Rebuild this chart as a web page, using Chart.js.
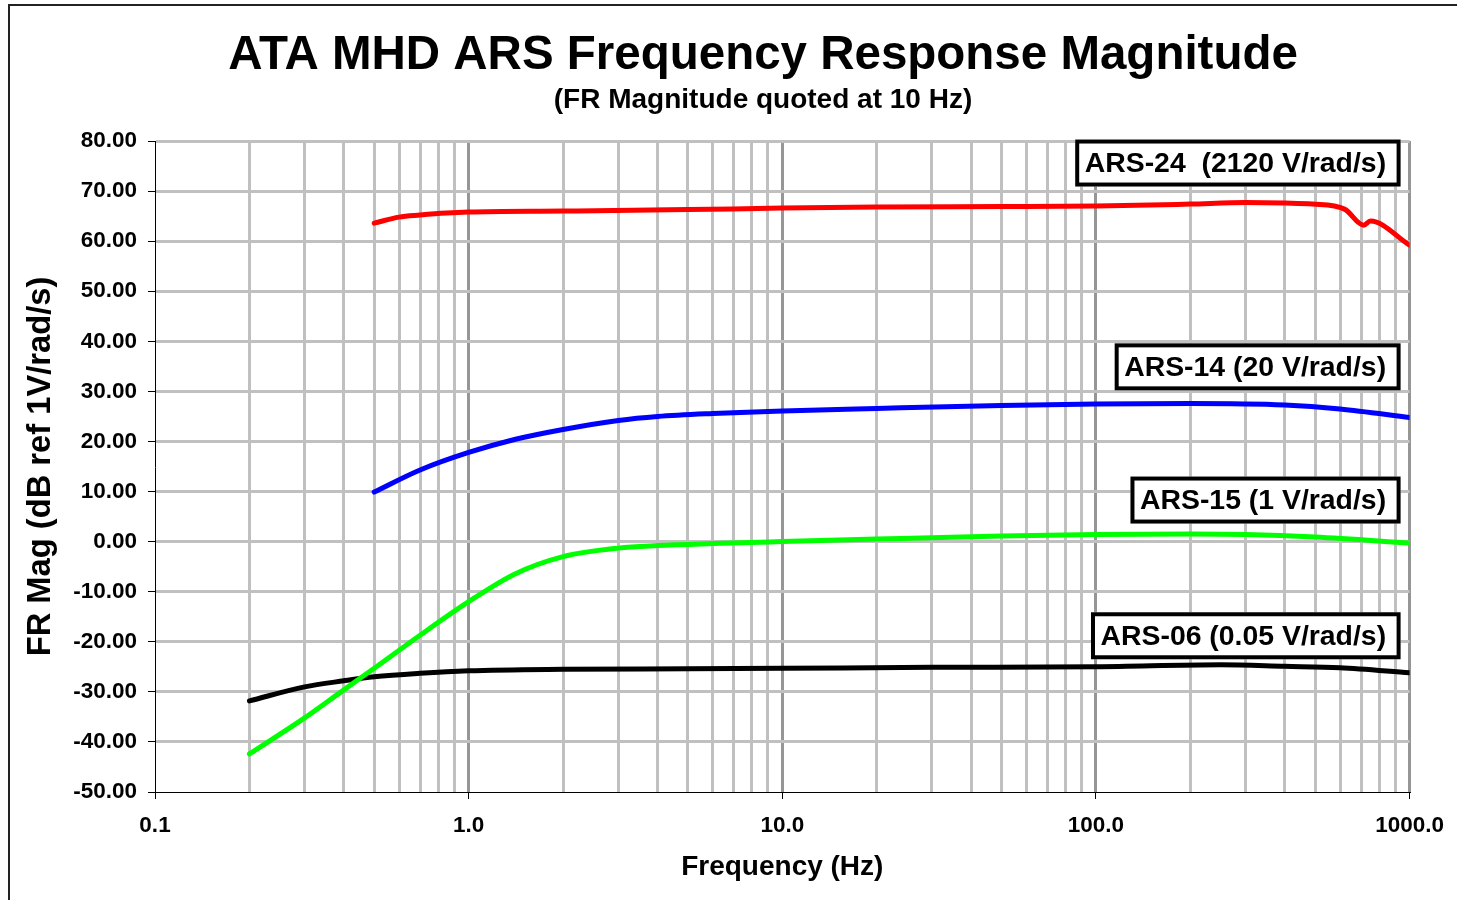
<!DOCTYPE html>
<html>
<head>
<meta charset="utf-8">
<title>ATA MHD ARS Frequency Response Magnitude</title>
<script src="https://cdn.jsdelivr.net/npm/chart.js@4.4.1/dist/chart.umd.min.js"></script>
<style>
	html, body { margin: 0; padding: 0; background: #fff; }
	#wrap { position: absolute; left: 0; top: 0; width: 1457px; height: 900px; }
</style>
</head>
<body>
<div id="wrap"><canvas id="fr-chartcanvas" width="1457" height="900"></canvas></div>
<script>
"use strict";

// values (Hz / dB)
const ars24Freq = [0.5, 0.6, 0.7, 0.85, 1, 2, 5, 10, 20, 50, 100, 200, 300, 400, 490, 620, 714, 750, 1000];
const ars24Mag = [63.6, 64.8, 65.2, 65.6, 65.8, 66.0, 66.3, 66.6, 66.8, 66.9, 67.0, 67.4, 67.7, 67.6, 67.4, 66.4, 63.2, 64.0, 59.2];

const ars14Freq = [0.5, 0.7, 1, 1.4, 2, 3, 4, 6, 10, 20, 50, 100, 200, 400, 600, 1000];
const ars14Mag = [9.9, 14.3, 17.8, 20.4, 22.4, 24.2, 25.0, 25.6, 26.1, 26.6, 27.2, 27.5, 27.6, 27.3, 26.5, 24.8];

const ars15Freq = [0.2, 0.3, 0.4, 0.5, 0.7, 1, 1.4, 2, 3, 4, 6, 10, 20, 50, 100, 200, 300, 500, 1000];
const ars15Mag = [-42.4, -35.2, -29.6, -25.3, -18.7, -12.0, -6.5, -3.0, -1.3, -0.8, -0.4, 0.0, 0.5, 1.1, 1.4, 1.5, 1.4, 0.9, -0.3];

const ars06Freq = [0.2, 0.3, 0.4, 0.5, 0.7, 1, 2, 5, 10, 30, 100, 250, 400, 600, 1000];
const ars06Mag = [-31.8, -29.0, -27.8, -27.0, -26.3, -25.8, -25.5, -25.4, -25.3, -25.1, -25.0, -24.6, -24.9, -25.2, -26.2];

// axis ticks
const magTicks = [-50, -40, -30, -20, -10, 0, 10, 20, 30, 40, 50, 60, 70, 80];

// boxed labels, anchored on the dB axis
const boxText = ["ARS-24  (2120 V/rad/s)", "ARS-14 (20 V/rad/s)", "ARS-15 (1 V/rad/s)", "ARS-06 (0.05 V/rad/s)"];
const boxLevel = [75.6, 34.9, 8.3, -18.8];

const chartTitle = "ATA MHD ARS Frequency Response Magnitude";
const chartSubtitle = "(FR Magnitude quoted at 10 Hz)";

const fontFamily = "'Liberation Sans', Arial, Helvetica, sans-serif";

function toPoints(freqs, mags) {
	return freqs.map(function(f, i) { return { x : f, y : mags[i] }; });
}

function isDecade(v) {
	let l = Math.log10(v);
	return Math.abs(l - Math.round(l)) < 1e-6;
}

// every 1..9 x 10^n between 0.1 and 1000
function logTicks() {
	let ticks = [];
	for (let e = -1; e < 3; e++) {
		for (let s = 1; s < 10; s++) {
			ticks.push({ value : parseFloat((s * Math.pow(10, e)).toPrecision(6)) });
		}
	}
	ticks.push({ value : 1000 });
	return ticks;
}

// titles, frame and label boxes
const decorPlugin = {
	id : "decor",
	beforeDraw : function(chart) {
		let ctx = chart.ctx;
		ctx.save();
		ctx.fillStyle = "#fff";
		ctx.fillRect(0, 0, chart.width, chart.height);
		ctx.strokeStyle = "#222";
		ctx.lineWidth = 2;
		ctx.strokeRect(9, 5, chart.width + 20, chart.height + 20);
		ctx.fillStyle = "#000";
		ctx.textAlign = "center";
		ctx.textBaseline = "middle";
		ctx.font = "bold 47.5px " + fontFamily;
		ctx.fillText(chartTitle, 763, 56);
		ctx.font = "bold 28px " + fontFamily;
		ctx.fillText(chartSubtitle, 763, 100);
		ctx.restore();
	},
	afterDatasetsDraw : function(chart) {
		let ctx = chart.ctx;
		let yScale = chart.scales.y;
		let right = chart.chartArea.right - 9;
		ctx.save();
		ctx.font = "bold 28.4px " + fontFamily;
		ctx.textAlign = "right";
		ctx.textBaseline = "middle";
		for (let i = 0; i < boxText.length; i++) {
			let w = ctx.measureText(boxText[i]).width + 24;
			let h = 47;
			let cy = yScale.getPixelForValue(boxLevel[i]);
			let left = right - w;
			ctx.fillStyle = "#fff";
			ctx.fillRect(left, cy - h / 2, w, h);
			ctx.strokeStyle = "#000";
			ctx.lineWidth = 4;
			ctx.strokeRect(left + 2, cy - h / 2 + 2, w - 4, h - 4);
			ctx.fillStyle = "#000";
			ctx.fillText(boxText[i], right - 14.5, cy + 1);
		}
		ctx.restore();
	}
};

let lineStyle = {
	fill : false,
	pointRadius : 0,
	borderWidth : 5,
	borderCapStyle : "round",
	borderJoinStyle : "round",
	cubicInterpolationMode : "monotone"
};

// graph elements
let frData = {
	datasets : [
		Object.assign({ label : "ARS-24", data : toPoints(ars24Freq, ars24Mag), borderColor : "#ff0000" }, lineStyle),
		Object.assign({ label : "ARS-14", data : toPoints(ars14Freq, ars14Mag), borderColor : "#0000ff" }, lineStyle),
		Object.assign({ label : "ARS-15", data : toPoints(ars15Freq, ars15Mag), borderColor : "#00ff00" }, lineStyle),
		Object.assign({ label : "ARS-06", data : toPoints(ars06Freq, ars06Mag), borderColor : "#000000" }, lineStyle)
	]
};

let frOptions = {
	responsive : false,
	animation : false,
	devicePixelRatio : 1,
	layout : {
		padding : { top : 141, right : 44, bottom : 0, left : 0 }
	},
	plugins : {
		legend : { display : false },
		title : { display : false },
		tooltip : { enabled : false }
	},
	scales : {
		x : {
			type : "logarithmic",
			min : 0.1,
			max : 1000,
			afterBuildTicks : function(scale) { scale.ticks = logTicks(); },
			afterFit : function(scale) { scale.height = 108; },
			ticks : {
				autoSkip : false,
				maxRotation : 0,
				padding : 13,
				color : "#000",
				font : { family : fontFamily, size : 22.5, weight : "bold" },
				callback : function(v) { return isDecade(v) ? v.toFixed(1) : ""; }
			},
			grid : {
				lineWidth : 3,
				color : function(c) {
					if (!c.tick) return "#c0c0c0";
					if (c.tick.value === 0.1) return "rgba(0,0,0,0)";
					return isDecade(c.tick.value) ? "#969696" : "#c0c0c0";
				},
				tickColor : function(c) {
					return c.tick && isDecade(c.tick.value) ? "#000" : "rgba(0,0,0,0)";
				},
				tickLength : 7,
				tickWidth : 1
			},
			border : { color : "#000", width : 1 },
			title : {
				display : true,
				text : "Frequency (Hz)",
				color : "#000",
				font : { family : fontFamily, size : 28, weight : "bold" },
				padding : { top : 0, bottom : 16 }
			}
		},
		y : {
			min : -50,
			max : 80,
			afterBuildTicks : function(scale) {
				scale.ticks = magTicks.map(function(v) { return { value : v }; });
			},
			afterFit : function(scale) { scale.width = 155; },
			ticks : {
				padding : 11,
				color : "#000",
				font : { family : fontFamily, size : 22.5, weight : "bold" },
				callback : function(v) { return v.toFixed(2); }
			},
			grid : {
				lineWidth : 3,
				color : function(c) {
					return c.tick && c.tick.value === -50 ? "rgba(0,0,0,0)" : "#c0c0c0";
				},
				tickColor : "#000",
				tickLength : 7,
				tickWidth : 1
			},
			border : { color : "#000", width : 1 },
			title : {
				display : true,
				text : "FR Mag (dB ref 1V/rad/s)",
				color : "#000",
				font : { family : fontFamily, size : 32.7, weight : "bold" },
				padding : { top : 21, bottom : 0 }
			}
		}
	}
};

// create chart
let frCtx = document.getElementById("fr-chartcanvas");
let frChart = new Chart(frCtx, {
	type : "line",
	data : frData,
	options : frOptions,
	plugins : [decorPlugin]
});
</script>
</body>
</html>
